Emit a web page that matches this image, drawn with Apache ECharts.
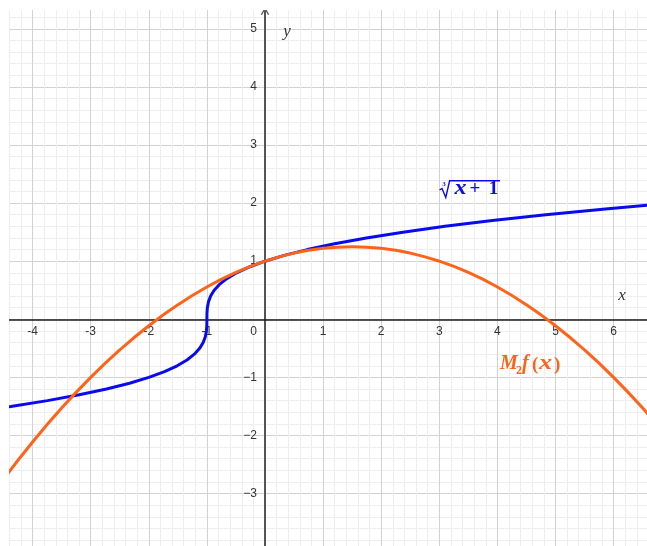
<!DOCTYPE html>
<html>
<head>
<meta charset="utf-8">
<script src="https://cdn.jsdelivr.net/npm/echarts@6/dist/echarts.min.js"></script>
<style>
  html, body { margin: 0; padding: 0; background: #ffffff; }
  #chart { width: 647px; height: 546px; }
</style>
</head>
<body>
<div id="chart"></div>
<script>
// Cube-root curve y = ∛(x + 1), sampled densely around the vertical tangent at x = -1
const rootX = [-4.5, -4.375, -3.744, -3.197, -2.728, -2.331, -2, -1.729, -1.512, -1.343, -1.216,
  -1.125, -1.064, -1.027, -1.008, -1.001, -1, -0.999, -0.992, -0.973, -0.936, -0.875, -0.784,
  -0.657, -0.488, -0.271, 0, 0.331, 0.728, 1.197, 1.744, 2.375, 3.096, 3.913, 4.832, 5.859, 6.6, 7];
const rootY = [-1.518, -1.5, -1.4, -1.3, -1.2, -1.1, -1, -0.9, -0.8, -0.7, -0.6,
  -0.5, -0.4, -0.3, -0.2, -0.1, 0, 0.1, 0.2, 0.3, 0.4, 0.5, 0.6,
  0.7, 0.8, 0.9, 1, 1.1, 1.2, 1.3, 1.4, 1.5, 1.6, 1.7, 1.8, 1.9, 1.966, 2];

// Second-order polynomial M2 f(x)
const polyX = [-4.5, -4, -3.5, -3, -2.5, -2, -1.5, -1, -0.5, 0, 0.5, 1, 1.5, 2, 2.5, 3, 3.5, 4,
  4.5, 5, 5.5, 6, 6.5, 7];
const polyY = [-2.75, -2.1111, -1.5278, -1, -0.5278, -0.1111, 0.25, 0.5556, 0.8056, 1, 1.1389,
  1.2222, 1.25, 1.2222, 1.1389, 1, 0.8056, 0.5556, 0.25, -0.1111, -0.5278, -1, -1.5278, -2.1111];

// Tick labels shown on the axes
const xTicks = [-4, -3, -2, -1, 0, 1, 2, 3, 4, 5, 6];
const yTicks = [-3, -2, -1, 1, 2, 3, 4, 5];

// Visible window in axis units
const X_MIN = -4.406, X_MAX = 6.575;
const Y_MIN = -3.902, Y_MAX = 5.306;

const BLUE = '#0a0aee';
const ORANGE = '#ff6319';
const LABEL_FONT = '"Liberation Sans", Arial, sans-serif';
const MATH_FONT = '"Liberation Serif", "DejaVu Serif", serif';

const pairs = (xs, ys) => xs.map((x, i) => [x, ys[i]]);

const hiddenAxis = (gridIndex, min, max) => ({
  type: 'value', gridIndex, min, max, show: false,
  axisLine: { show: false, onZero: false }, splitLine: { show: false }
});

const chart = echarts.init(document.getElementById('chart'), null, { renderer: 'canvas' });

const option = {
  animation: false,
  backgroundColor: '#ffffff',
  grid: [
    // coordinate grid, one unit = 58.1 px, origin at (265, 319.3)
    { left: -25.5, top: -29.3, width: 697.2, height: 581, containLabel: false, outerBoundsMode: 'none' },
    // strip above the x axis: its bottom edge carries the x axis and its labels
    { left: 9, right: 0, top: 11, height: 308.3, containLabel: false, outerBoundsMode: 'none' },
    // strip right of the y axis: its left edge carries the y axis and its labels
    { left: 265, right: 0, top: 11, bottom: 0, containLabel: false, outerBoundsMode: 'none' }
  ],
  xAxis: [
    {
      type: 'value', gridIndex: 0, min: -5, max: 7, interval: 1,
      axisLine: { show: false, onZero: false },
      axisTick: { show: false },
      axisLabel: { show: false },
      minorTick: { show: false, splitNumber: 5 },
      splitLine: { show: true, lineStyle: { color: '#d2d2d2', width: 1 } },
      minorSplitLine: { show: true, lineStyle: { color: '#eeeeee', width: 1 } }
    },
    {
      type: 'value', gridIndex: 1, min: X_MIN, max: X_MAX, position: 'bottom',
      axisLine: { show: true, onZero: false, lineStyle: { color: '#1a1a1a', width: 1.5 } },
      axisTick: { show: false },
      splitLine: { show: false },
      axisLabel: {
        show: true, customValues: xTicks, margin: 6,
        fontSize: 12, fontFamily: LABEL_FONT, color: '#333',
        formatter: v => (v === 0 ? '{z|0}' : String(v)),
        rich: { z: { fontSize: 12, fontFamily: LABEL_FONT, color: '#333', padding: [0, 23, 0, 0] } }
      }
    },
    hiddenAxis(2, 0, 1)
  ],
  yAxis: [
    {
      type: 'value', gridIndex: 0, min: -4, max: 6, interval: 1,
      axisLine: { show: false, onZero: false },
      axisTick: { show: false },
      axisLabel: { show: false },
      minorTick: { show: false, splitNumber: 5 },
      splitLine: { show: true, lineStyle: { color: '#d2d2d2', width: 1 } },
      minorSplitLine: { show: true, lineStyle: { color: '#eeeeee', width: 1 } }
    },
    hiddenAxis(1, 0, 1),
    {
      type: 'value', gridIndex: 2, min: Y_MIN, max: Y_MAX, position: 'left',
      axisLine: {
        show: true, onZero: false,
        symbol: ['none', 'path://M0,9 L5,0 L10,9 L8.6,9.6 L5,3 L1.4,9.6 Z'],
        symbolSize: [9, 8],
        lineStyle: { color: '#555555', width: 2 }
      },
      axisTick: { show: false },
      splitLine: { show: false },
      axisLabel: {
        show: true, customValues: yTicks, margin: 8,
        fontSize: 12, fontFamily: LABEL_FONT, color: '#333',
        formatter: v => (v < 0 ? '\u2212' + Math.abs(v) : String(v))
      }
    }
  ],
  series: [
    {
      name: 'cbrt', type: 'line', xAxisIndex: 0, yAxisIndex: 0,
      data: pairs(rootX, rootY), showSymbol: false, smooth: false,
      lineStyle: { color: BLUE, width: 3 }, z: 3
    },
    {
      name: 'M2f', type: 'line', xAxisIndex: 0, yAxisIndex: 0,
      data: pairs(polyX, polyY), showSymbol: false, smooth: true,
      lineStyle: { color: ORANGE, width: 3 }, z: 4
    }
  ],
  graphic: [
    // blank margin along the top and left edges
    { type: 'rect', left: 0, top: 0, shape: { width: 9, height: 546 }, style: { fill: '#ffffff' }, z: 100 },
    { type: 'rect', left: 0, top: 0, shape: { width: 647, height: 10 }, style: { fill: '#ffffff' }, z: 100 },
    // axis names
    { type: 'text', x: 622, y: 296, z: 110,
      style: { text: 'x', font: 'italic 17px ' + MATH_FONT, fill: '#333', align: 'center', verticalAlign: 'middle' } },
    { type: 'text', x: 287, y: 32, z: 110,
      style: { text: 'y', font: 'italic 17px ' + MATH_FONT, fill: '#333', align: 'center', verticalAlign: 'middle' } },
    // ∛(x + 1) label
    { type: 'polyline', z: 110,
      shape: { points: [[439.5, 190], [442, 188.6], [445.8, 197.5], [449.6, 180.8], [500, 180.8]] },
      style: { stroke: BLUE, lineWidth: 1.4, fill: null, lineJoin: 'miter' } },
    { type: 'text', x: 444, y: 184, z: 110,
      style: { text: '3', font: 'bold 7px ' + MATH_FONT, fill: BLUE, align: 'center', verticalAlign: 'middle' } },
    { type: 'text', x: 454.5, y: 199, scaleX: 1.2, z: 110,
      style: { text: 'x', font: 'bold italic 20px ' + MATH_FONT, fill: BLUE, align: 'left', verticalAlign: 'bottom' } },
    { type: 'text', x: 475, y: 199, z: 110,
      style: { text: '+', font: 'bold 19px ' + MATH_FONT, fill: BLUE, align: 'center', verticalAlign: 'bottom' } },
    { type: 'text', x: 493.5, y: 199, z: 110,
      style: { text: '1', font: 'bold 19px ' + MATH_FONT, fill: BLUE, align: 'center', verticalAlign: 'bottom' } },
    // M2 f(x) label
    { type: 'text', x: 500, y: 374, z: 110,
      style: { text: 'M', font: 'bold italic 20px ' + MATH_FONT, fill: ORANGE, align: 'left', verticalAlign: 'bottom' } },
    { type: 'text', x: 516, y: 377, z: 110,
      style: { text: '2', font: 'bold 12px ' + MATH_FONT, fill: ORANGE, align: 'left', verticalAlign: 'bottom' } },
    { type: 'text', x: 522, y: 374, z: 110,
      style: { text: 'f', font: 'bold italic 20px ' + MATH_FONT, fill: ORANGE, align: 'left', verticalAlign: 'bottom' } },
    { type: 'text', x: 532, y: 375, z: 110,
      style: { text: '(', font: 'bold 19px ' + MATH_FONT, fill: ORANGE, align: 'left', verticalAlign: 'bottom' } },
    { type: 'text', x: 539, y: 374, scaleX: 1.3, z: 110,
      style: { text: 'x', font: 'bold italic 20px ' + MATH_FONT, fill: ORANGE, align: 'left', verticalAlign: 'bottom' } },
    { type: 'text', x: 554, y: 375, z: 110,
      style: { text: ')', font: 'bold 19px ' + MATH_FONT, fill: ORANGE, align: 'left', verticalAlign: 'bottom' } }
  ]
};

chart.setOption(option);
</script>
</body>
</html>
